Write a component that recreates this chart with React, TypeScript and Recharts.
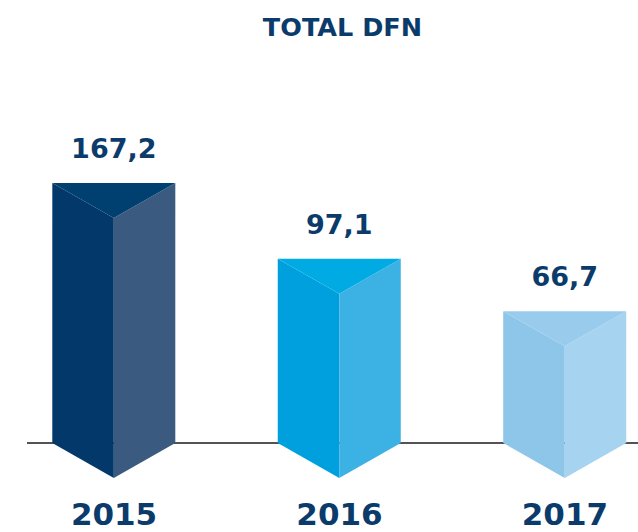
import React from 'react';
import { BarChart, Bar, XAxis, YAxis, LabelList, CartesianGrid } from 'recharts';

const years = [2015, 2016, 2017];
const totals = [167.2, 97.1, 66.7];
const title = 'TOTAL DFN';
const yDomain = [26, 400];

const data = years.map((year, i) => ({ year, total: totals[i] }));

const TEXT = '#0b3b6b';
const FONT = '"DejaVu Sans", sans-serif';
const FACES = [
  { left: '#02386a', top: '#004070', right: '#3b5a7f' },
  { left: '#00a0df', top: '#00abe3', right: '#3cb1e4' },
  { left: '#8dc6e9', top: '#99ccec', right: '#a6d3ef' },
];
const DEPTH = 35;

const Prism = (props: any) => {
  const { x, y, width, height, index } = props;
  if (x == null || y == null) return null;
  const c = FACES[index % FACES.length];
  const cx = x + width / 2;
  const base = y + height;
  const r = x + width;
  return (
    <g>
      <polygon points={`${x},${y} ${cx},${y + DEPTH} ${cx},${base + DEPTH} ${x},${base}`} fill={c.left} />
      <polygon points={`${cx},${y + DEPTH} ${r},${y} ${r},${base} ${cx},${base + DEPTH}`} fill={c.right} />
      <polygon points={`${x},${y} ${r},${y} ${cx},${y + DEPTH}`} fill={c.top} />
    </g>
  );
};

const ValueLabel = (props: any) => {
  const { x, y, width, value } = props;
  if (x == null || y == null) return null;
  return (
    <text
      x={x + width / 2}
      y={y - 25}
      textAnchor="middle"
      fill={TEXT}
      fontFamily={FONT}
      fontWeight="bold"
      fontSize={27}
    >
      {Number(value).toFixed(1).replace('.', ',')}
    </text>
  );
};

const YearTick = (props: any) => {
  const { x, y, payload } = props;
  return (
    <text
      x={x}
      y={y + 82}
      textAnchor="middle"
      fill={TEXT}
      fontFamily={FONT}
      fontWeight="bold"
      fontSize={31}
    >
      {String(payload.value)}
    </text>
  );
};

export default function App() {
  return (
    <div style={{ position: 'absolute', left: 0, top: 0, width: 638, height: 532, background: '#fff' }}>
      <svg width={638} height={50} style={{ position: 'absolute', left: 0, top: 0 }}>
        <text
          x={342.5}
          y={36}
          textAnchor="middle"
          fill={TEXT}
          fontFamily={FONT}
          fontWeight="bold"
          fontSize={25.5}
        >
          {title}
        </text>
      </svg>
      <BarChart
        width={638}
        height={532}
        data={data}
        margin={{ top: 61, right: 0, left: 27, bottom: 0 }}
      >
        <CartesianGrid
          vertical={false}
          horizontalValues={[yDomain[0]]}
          stroke="#1a1a1a"
          strokeWidth={1.5}
          strokeDasharray="0"
        />
        <XAxis
          dataKey="year"
          type="number"
          domain={[2014.614, 2017.324]}
          ticks={years}
          height={89}
          tickLine={false}
          tickSize={0}
          tickMargin={0}
          axisLine={false}
          tick={<YearTick />}
          interval={0}
        />
        <YAxis type="number" scale="log" domain={yDomain} hide />
        <Bar dataKey="total" barSize={123} shape={<Prism />} isAnimationActive={false}>
          <LabelList dataKey="total" content={<ValueLabel />} />
        </Bar>
      </BarChart>
    </div>
  );
}
